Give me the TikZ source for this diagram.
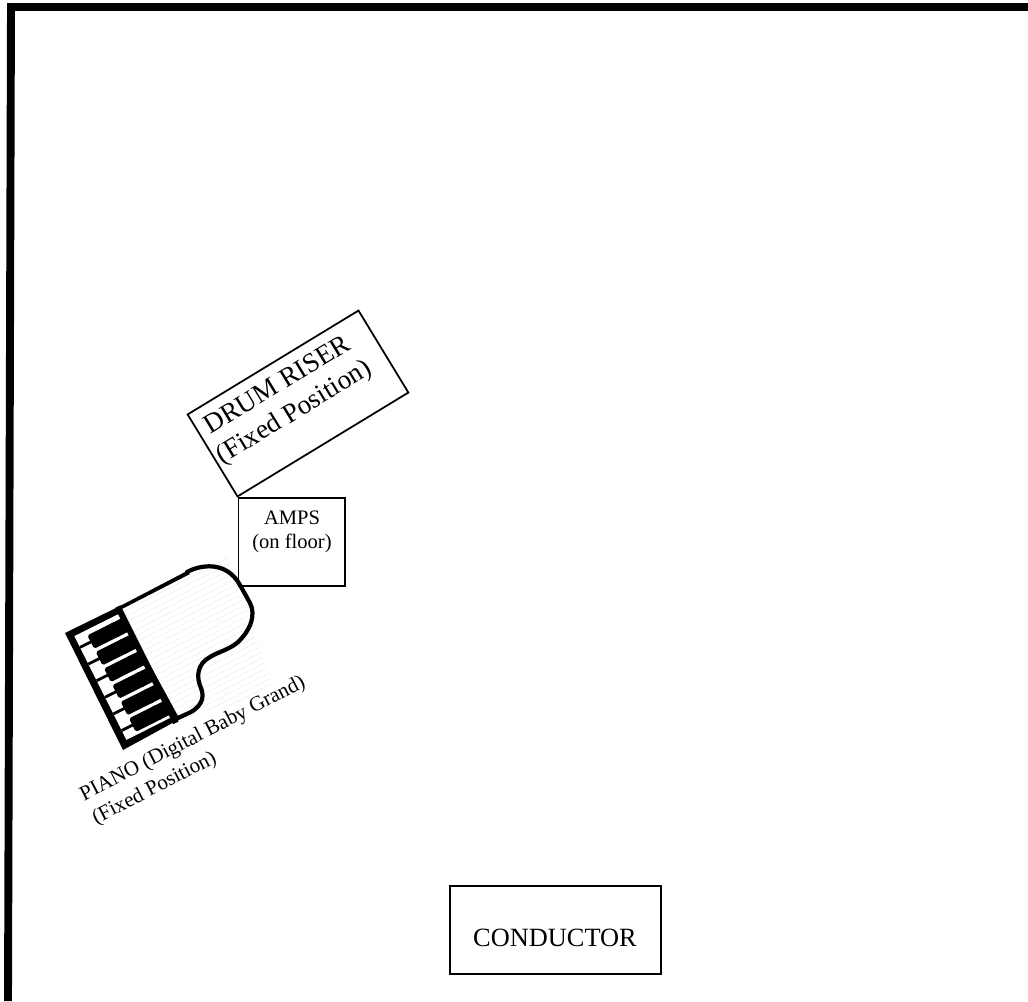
\documentclass[tikz,border=0pt]{standalone}
\usepackage{fontspec}
\setmainfont{Liberation Serif}
\usepackage{tikz}
\usetikzlibrary{calc}
\tikzset{
  stagebox/.style={draw,line width=1pt,inner sep=0pt},
  stagetext/.style={align=center,inner sep=0pt,font=\fontsize{15}{17}\selectfont},
  ampstext/.style={align=center,inner sep=0pt,font=\fontsize{11.7}{13.6}\selectfont},
  pianotext/.style={align=left,inner sep=0pt,font=\fontsize{12}{15}\selectfont},
  stagewall/.style={line width=4.5pt,miter limit=10},
  pianokey/.style={fill=black,rounded corners=1pt},
}
\begin{document}
\begin{tikzpicture}[x=0.02cm,y=-0.02cm]
\useasboundingbox (0,0) rectangle (1028,1001);
% walls
\coordinate (wallend) at (1028,7);
\coordinate (wallcorner) at (11,7);
\coordinate (wallfoot) at (8,1001);
\draw[stagewall] (wallend)--(wallcorner)--(wallfoot);
% drum riser
\node[stagebox,rotate=31.3,minimum width=4cm,minimum height=1.92cm] (riser) at (298,403.5){};
\node[stagetext,rotate=31.3,font=\fontsize{15.5}{18}\selectfont] (risertext) at (286.5,400){DRUM RISER\\(Fixed Position)};
% amps
\node[stagebox,minimum width=2.13cm,minimum height=1.76cm] (amps) at (291.7,542){};
\node[ampstext] (ampstext) at (292,532){AMPS\\(on floor)};
% piano
\begin{scope}
\clip (120,607)--(187,572)--(227,557)--(280,707)--(207,710)--(178,718)--cycle;
\begin{scope}[shift={(120,607)},rotate=27]
\foreach \i in {0,...,25}{
  \draw[black!10,line width=0.2pt] (-40,5.5*\i)--(160,5.5*\i);
}
\end{scope}
\end{scope}
\draw[line width=2.4pt,fill=none,line cap=round] (187,572) .. controls (200,565) and (226,560) .. (240,585)
  -- (250,603) .. controls (256,615) and (251,630) .. (237,643)
  .. controls (228,650) and (218,652) .. (210,657)
  .. controls (197,664) and (196,677) .. (201,688)
  .. controls (206,700) and (198,708) .. (191,712) -- (178,718);
\fill (65,633)--(120,606)--(187,571)--(190,574)--(120,610)--(178,716)--(178,720)--(123,750)--cycle;
\begin{scope}[shift={(65,633)},rotate=26.6]
\fill[white] (7,7) rectangle (58,123);
\fill[black] (56,0) rectangle (62,130);
\foreach \i in {1,...,6}{
  \draw[line width=1.6pt] (7,18.6*\i+1)--(22,18.6*\i+1);
  \fill[pianokey] (19,18.6*\i-6.5) rectangle (50,18.6*\i+8.5);
  \fill[black] (45,18.6*\i-6.5) rectangle (60,18.6*\i+8.5);
}
\end{scope}
\node[pianotext,rotate=27.3] (pianotext) at (199,751){PIANO (Digital Baby Grand)\\(Fixed Position)};
% conductor
\node[stagebox,minimum width=4.22cm,minimum height=1.76cm] (conductor) at (555.5,930){};
\node[stagetext] (conductortext) at (555,938){CONDUCTOR};
\end{tikzpicture}
\end{document}
